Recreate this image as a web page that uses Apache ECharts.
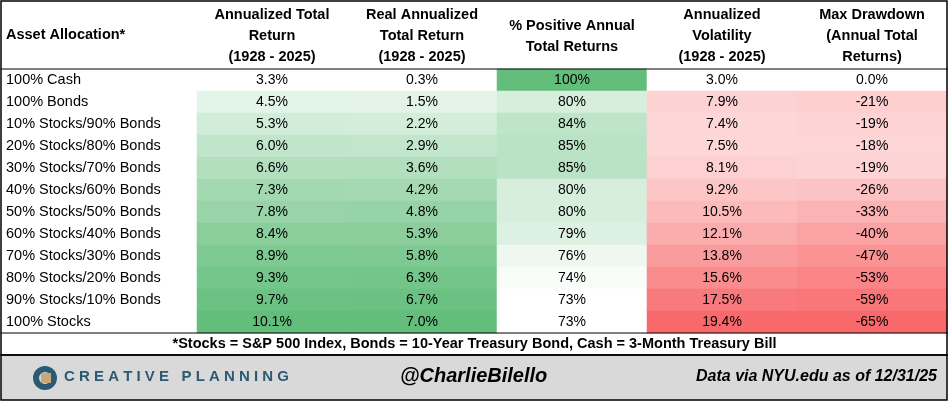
<!DOCTYPE html>
<html>
<head>
<meta charset="utf-8">
<script src="https://cdn.jsdelivr.net/npm/echarts@6/dist/echarts.min.js"></script>
<style>html,body{margin:0;padding:0;background:#fff}#main{width:949px;height:402px}</style>
</head>
<body>
<div id="main"></div>
<script>
// asset allocation table drawn as a heatmap, one visualMap per column
var rows = ['100% Cash', '100% Bonds', '10% Stocks/90% Bonds', '20% Stocks/80% Bonds', '30% Stocks/70% Bonds',
  '40% Stocks/60% Bonds', '50% Stocks/50% Bonds', '60% Stocks/40% Bonds', '70% Stocks/30% Bonds',
  '80% Stocks/20% Bonds', '90% Stocks/10% Bonds', '100% Stocks']
var headers = ['Annualized Total\nReturn\n(1928 - 2025)', 'Real Annualized\nTotal Return\n(1928 - 2025)',
  '% Positive Annual\nTotal Returns', 'Annualized\nVolatility\n(1928 - 2025)', 'Max Drawdown\n(Annual Total\nReturns)']
var annReturn = [3.3, 4.5, 5.3, 6.0, 6.6, 7.3, 7.8, 8.4, 8.9, 9.3, 9.7, 10.1]
var realReturn = [0.3, 1.5, 2.2, 2.9, 3.6, 4.2, 4.8, 5.3, 5.8, 6.3, 6.7, 7.0]
var pctPositive = [100, 80, 84, 85, 85, 80, 80, 79, 76, 74, 73, 73]
var volatility = [3.0, 7.9, 7.4, 7.5, 8.1, 9.2, 10.5, 12.1, 13.8, 15.6, 17.5, 19.4]
var drawdown = [0, -21, -19, -18, -19, -26, -33, -40, -47, -53, -59, -65]

var cols = [annReturn, realReturn, pctPositive, volatility, drawdown]
var decimals = [1, 1, 0, 1, 0]
var GREEN = '#63BE7B', RED = '#F8696B', WHITE = '#FFFFFF'
var ranges = [
  [WHITE, GREEN], [WHITE, GREEN], [WHITE, GREEN], [WHITE, RED], [RED, WHITE]
]

var chart = echarts.init(document.getElementById('main'))
var series = [], visualMaps = []
cols.forEach(function (c, ci) {
  var data = c.map(function (v, ri) { return [ci, ri, v] })
  series.push({
    type: 'heatmap', data: data,
    label: {
      show: true, color: '#000', fontSize: 14, fontFamily: 'Liberation Sans',
      formatter: function (p) {
        var v = p.value[2]
        return (v === 0 ? '0.0' : v.toFixed(decimals[ci])) + '%'
      }
    },
    emphasis: { disabled: true }
  })
  visualMaps.push({
    show: false, type: 'continuous', seriesIndex: ci, dimension: 2,
    min: Math.min.apply(null, c), max: Math.max.apply(null, c),
    inRange: { color: ranges[ci] }
  })
})

var font = 'Liberation Sans'
var option = {
  animation: false,
  grid: { left: 197, right: 2, top: 69, height: 264 },
  xAxis: {
    type: 'category', position: 'top', data: headers,
    axisLine: { show: false }, axisTick: { show: false }, splitLine: { show: false },
    axisLabel: { interval: 0, margin: 33, verticalAlign: 'middle', fontWeight: 'bold',
      fontSize: 14.5, lineHeight: 21, color: '#000', fontFamily: font }
  },
  yAxis: {
    type: 'category', inverse: true, data: rows,
    axisLine: { show: false }, axisTick: { show: false }, splitLine: { show: false },
    axisLabel: { align: 'left', margin: 191, fontSize: 14.5, color: '#000', fontFamily: font }
  },
  visualMap: visualMaps,
  series: series,
  graphic: [
    { type: 'rect', shape: { x: 1, y: 355, width: 946, height: 45 }, style: { fill: '#d9d9d9', stroke: '#000', lineWidth: 1.5 } },
    { type: 'rect', shape: { x: 1, y: 1, width: 946, height: 354 }, style: { fill: 'none', stroke: '#000', lineWidth: 1.5 }, z: 10 },
    { type: 'line', shape: { x1: 1, y1: 69, x2: 948, y2: 69 }, style: { stroke: '#000', lineWidth: 1 }, z: 10 },
    { type: 'line', shape: { x1: 1, y1: 333, x2: 948, y2: 333 }, style: { stroke: '#000', lineWidth: 1 }, z: 10 },
    { type: 'text', left: 6, top: 27, style: { text: 'Asset Allocation*', font: 'bold 14.5px Liberation Sans', fill: '#000' } },
    { type: 'text', left: 'center', top: 336, style: { text: '*Stocks = S&P 500 Index, Bonds = 10-Year Treasury Bond, Cash = 3-Month Treasury Bill', font: 'bold 14.5px Liberation Sans', fill: '#000' } },
    { type: 'circle', shape: { cx: 45, cy: 378, r: 9 }, style: { fill: 'none', stroke: '#2b5a73', lineWidth: 6 } },
    { type: 'rect', shape: { x: 41, y: 373, width: 10, height: 10 }, rotation: 0, style: { fill: '#c9a77a' } },
    { type: 'text', left: 64, top: 369, style: { text: 'C R E A T I V E   P L A N N I N G', font: 'bold 15px Liberation Sans', fill: '#2b5a73' } },
    { type: 'text', left: 400, top: 366, style: { text: '@CharlieBilello', font: 'italic bold 20px Liberation Sans', fill: '#000' } },
    { type: 'text', right: 12, top: 369, style: { text: 'Data via NYU.edu as of 12/31/25', font: 'italic bold 16px Liberation Sans', fill: '#000' } }
  ]
}
chart.setOption(option)
</script>
</body>
</html>
